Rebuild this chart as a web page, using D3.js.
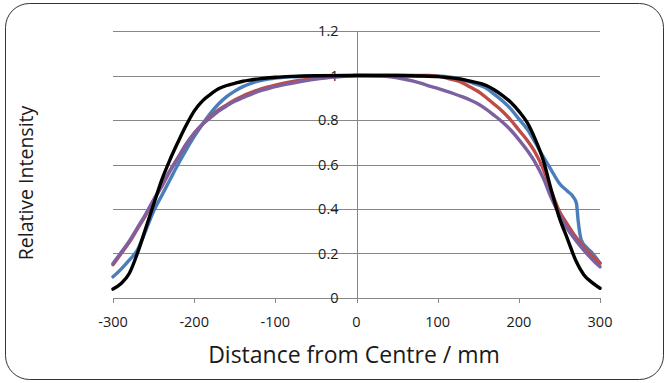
<!DOCTYPE html>
<html><head><meta charset="utf-8">
<script src="https://cdn.jsdelivr.net/npm/d3@7"></script>
<style>html,body{margin:0;padding:0;background:#fff;} text{font-family:"Open Sans","Noto Sans",sans-serif;}</style>
</head><body><svg id="c" width="669" height="383"></svg>
<script>
const xTicks = [-300,-200,-100,0,100,200,300];
const yTicks = [0,0.2,0.4,0.6,0.8,1,1.2];
const yTickLabels = ["0","0.2","0.4","0.6","0.8","1","1.2"];

const blueX = [-300,-290,-280,-270,-260,-250,-240,-230,-220,-210,-200,-190,-180,-170,-160,-150,-140,-130,-120,-100,-80,-50,0,50,100,110,120,130,140,150,160,170,180,190,200,210,220,230,240,250,260,267,271,273,277,284,291,300];
const blueY = [0.095,0.13,0.17,0.215,0.3,0.39,0.46,0.53,0.6,0.665,0.725,0.78,0.83,0.872,0.905,0.93,0.95,0.965,0.976,0.988,0.994,0.998,1.0,1.0,0.998,0.995,0.99,0.982,0.97,0.958,0.942,0.915,0.885,0.85,0.805,0.76,0.7,0.635,0.575,0.515,0.48,0.455,0.425,0.35,0.26,0.225,0.2,0.156];

const redX = [-300,-290,-280,-270,-260,-250,-240,-230,-220,-210,-200,-190,-180,-170,-160,-150,-140,-130,-120,-110,-100,-80,-60,-40,-20,0,20,50,90,100,110,120,130,140,150,160,170,180,190,200,210,220,230,240,250,260,270,280,290,300];
const redY = [0.15,0.2,0.25,0.31,0.37,0.44,0.5,0.57,0.63,0.69,0.74,0.78,0.815,0.845,0.868,0.89,0.908,0.923,0.937,0.948,0.957,0.972,0.982,0.99,0.996,1.0,1.0,1.0,1.0,0.997,0.99,0.98,0.968,0.948,0.928,0.9,0.87,0.838,0.8,0.755,0.71,0.655,0.58,0.48,0.39,0.33,0.275,0.23,0.19,0.157];

const purpleX = [-300,-290,-280,-270,-260,-250,-240,-230,-220,-210,-200,-190,-180,-170,-160,-150,-140,-130,-120,-110,-100,-80,-60,-40,-20,0,10,30,50,70,80,90,100,110,120,130,140,150,160,170,180,190,200,210,220,230,240,250,260,270,280,290,300];
const purpleY = [0.155,0.205,0.255,0.315,0.375,0.44,0.505,0.57,0.63,0.69,0.74,0.78,0.81,0.84,0.863,0.884,0.9,0.915,0.93,0.94,0.95,0.965,0.978,0.988,0.995,1.0,1.0,0.997,0.99,0.975,0.965,0.952,0.942,0.93,0.918,0.905,0.89,0.872,0.848,0.82,0.79,0.755,0.712,0.665,0.61,0.54,0.45,0.375,0.31,0.26,0.215,0.175,0.14];

const blackX = [-300,-290,-280,-270,-260,-250,-240,-230,-220,-210,-200,-190,-180,-170,-160,-150,-140,-130,-120,-100,-80,-50,0,50,80,100,120,140,160,170,180,190,200,210,220,230,240,250,260,270,280,290,300];
const blackY = [0.04,0.065,0.11,0.2,0.31,0.42,0.53,0.62,0.7,0.775,0.84,0.885,0.915,0.94,0.955,0.965,0.974,0.98,0.985,0.992,0.996,0.999,1.0,1.0,0.998,0.995,0.988,0.975,0.955,0.935,0.91,0.88,0.84,0.79,0.715,0.62,0.485,0.36,0.265,0.17,0.105,0.07,0.044];

const seriesList = [
  {xs: blueX, ys: blueY, color: "#4A7EBB"},
  {xs: redX, ys: redY, color: "#BE4B48"},
  {xs: purpleX, ys: purpleY, color: "#7D60A0"},
  {xs: blackX, ys: blackY, color: "#000000"}
];

const svg = d3.select("#c");
svg.append("rect").attr("x",5.5).attr("y",3.5).attr("width",658).attr("height",376)
  .attr("rx",24).attr("ry",24).attr("fill","#fff").attr("stroke","#333").attr("stroke-width",1);

const x = d3.scaleLinear().domain([-300,300]).range([113,600]);
const y = d3.scaleLinear().domain([0,1.2]).range([298,31]);

// gridlines
svg.append("g").selectAll("line").data(yTicks).join("line")
  .attr("x1",x(-300)).attr("x2",x(300))
  .attr("y1",d=>Math.round(y(d))+0.5).attr("y2",d=>Math.round(y(d))+0.5)
  .attr("stroke","#878787").attr("stroke-width",1);

// y axis at x=0
const x0 = Math.round(x(0))+0.5;
svg.append("line").attr("x1",x0).attr("x2",x0).attr("y1",y(1.2)).attr("y2",y(0))
  .attr("stroke","#878787").attr("stroke-width",1);
// x axis ticks
svg.append("g").selectAll("line").data(xTicks).join("line")
  .attr("x1",d=>Math.round(x(d))+0.5).attr("x2",d=>Math.round(x(d))+0.5)
  .attr("y1",Math.round(y(0))).attr("y2",Math.round(y(0))+5)
  .attr("stroke","#878787");

// y tick labels
svg.append("g").selectAll("text").data(yTicks).join("text")
  .attr("x",x(0)-18).attr("y",d=>y(d)).attr("dy","0.35em")
  .attr("text-anchor","end").attr("font-size",14.5).attr("fill","#1a1a1a")
  .text((d,i)=>yTickLabels[i]);
// x tick labels
svg.append("g").selectAll("text").data(xTicks).join("text")
  .attr("x",d=>x(d)).attr("y",327).attr("text-anchor","middle")
  .attr("font-size",14.5).attr("fill","#1a1a1a").text(d=>d);

// lines
const line = d3.line().x(d=>x(d[0])).y(d=>y(d[1])).curve(d3.curveMonotoneX);
seriesList.forEach(s=>{
  const pts = s.xs.map((v,i)=>[v,s.ys[i]]);
  svg.append("path").datum(pts).attr("d",line).attr("fill","none")
    .attr("stroke",s.color).attr("stroke-width",3.4).attr("stroke-linejoin","round").attr("stroke-linecap","round");
});

// axis titles
svg.append("text").attr("x",354).attr("y",363).attr("text-anchor","middle")
  .attr("font-size",23).attr("fill","#1a1a1a").text("Distance from Centre / mm");
svg.append("text").attr("transform","translate(33,183) rotate(-90)").attr("text-anchor","middle")
  .attr("font-size",19.5).attr("fill","#1a1a1a").text("Relative Intensity");
</script></body></html>
